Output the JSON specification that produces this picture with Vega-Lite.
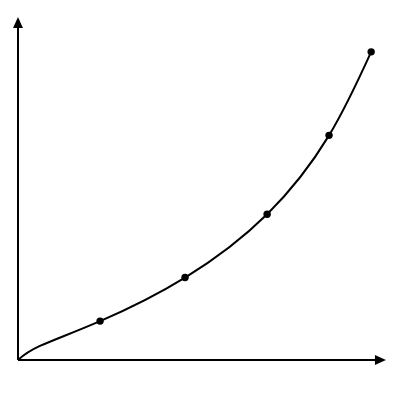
{
  "$schema": "https://vega.github.io/schema/vega-lite/v6.json",
  "width": 400,
  "height": 400,
  "autosize": {"type": "fit", "contains": "padding"},
  "padding": 0,
  "background": "white",
  "config": {"view": {"stroke": null}},
  "datasets": {
    "curve": [
      {"x": 0, "y": 0, "dot": false},
      {"x": 0.61, "y": 0.39, "dot": false},
      {"x": 2.28, "y": 1.08, "dot": true},
      {"x": 4.64, "y": 2.29, "dot": true},
      {"x": 6.92, "y": 4.05, "dot": true},
      {"x": 8.64, "y": 6.24, "dot": true},
      {"x": 9.81, "y": 8.56, "dot": true}
    ],
    "axes": [
      {"x": 0, "y": 0, "x2": 0, "y2": 9.3},
      {"x": 0, "y": 0, "x2": 10.0, "y2": 0}
    ],
    "arrows": [
      {"x": 0, "y": 9.53, "dir": "up"},
      {"x": 10.22, "y": 0, "dir": "right"}
    ]
  },
  "layer": [
    {
      "data": {"name": "axes"},
      "mark": {"type": "rule", "color": "black", "strokeWidth": 2},
      "encoding": {
        "x": {"field": "x", "type": "quantitative", "scale": {"domain": [-0.5, 10.611], "nice": false, "zero": false}, "axis": null},
        "y": {"field": "y", "type": "quantitative", "scale": {"domain": [-1.111, 10], "nice": false, "zero": false}, "axis": null},
        "x2": {"field": "x2"},
        "y2": {"field": "y2"}
      }
    },
    {
      "data": {"name": "arrows"},
      "transform": [{"filter": "datum.dir == 'up'"}],
      "mark": {"type": "point", "shape": "M0,0L-0.45,1L0.45,1Z", "filled": true, "color": "black", "opacity": 1, "size": 484},
      "encoding": {
        "x": {"field": "x", "type": "quantitative"},
        "y": {"field": "y", "type": "quantitative"}
      }
    },
    {
      "data": {"name": "arrows"},
      "transform": [{"filter": "datum.dir == 'right'"}],
      "mark": {"type": "point", "shape": "M0,0L-1,-0.45L-1,0.45Z", "filled": true, "color": "black", "opacity": 1, "size": 484},
      "encoding": {
        "x": {"field": "x", "type": "quantitative"},
        "y": {"field": "y", "type": "quantitative"}
      }
    },
    {
      "data": {"name": "curve"},
      "mark": {"type": "line", "interpolate": "natural", "color": "black", "strokeWidth": 2},
      "encoding": {
        "x": {"field": "x", "type": "quantitative"},
        "y": {"field": "y", "type": "quantitative"}
      }
    },
    {
      "data": {"name": "curve"},
      "transform": [{"filter": "datum.dot"}],
      "mark": {"type": "point", "filled": true, "color": "black", "opacity": 1, "size": 55},
      "encoding": {
        "x": {"field": "x", "type": "quantitative"},
        "y": {"field": "y", "type": "quantitative"}
      }
    }
  ]
}
